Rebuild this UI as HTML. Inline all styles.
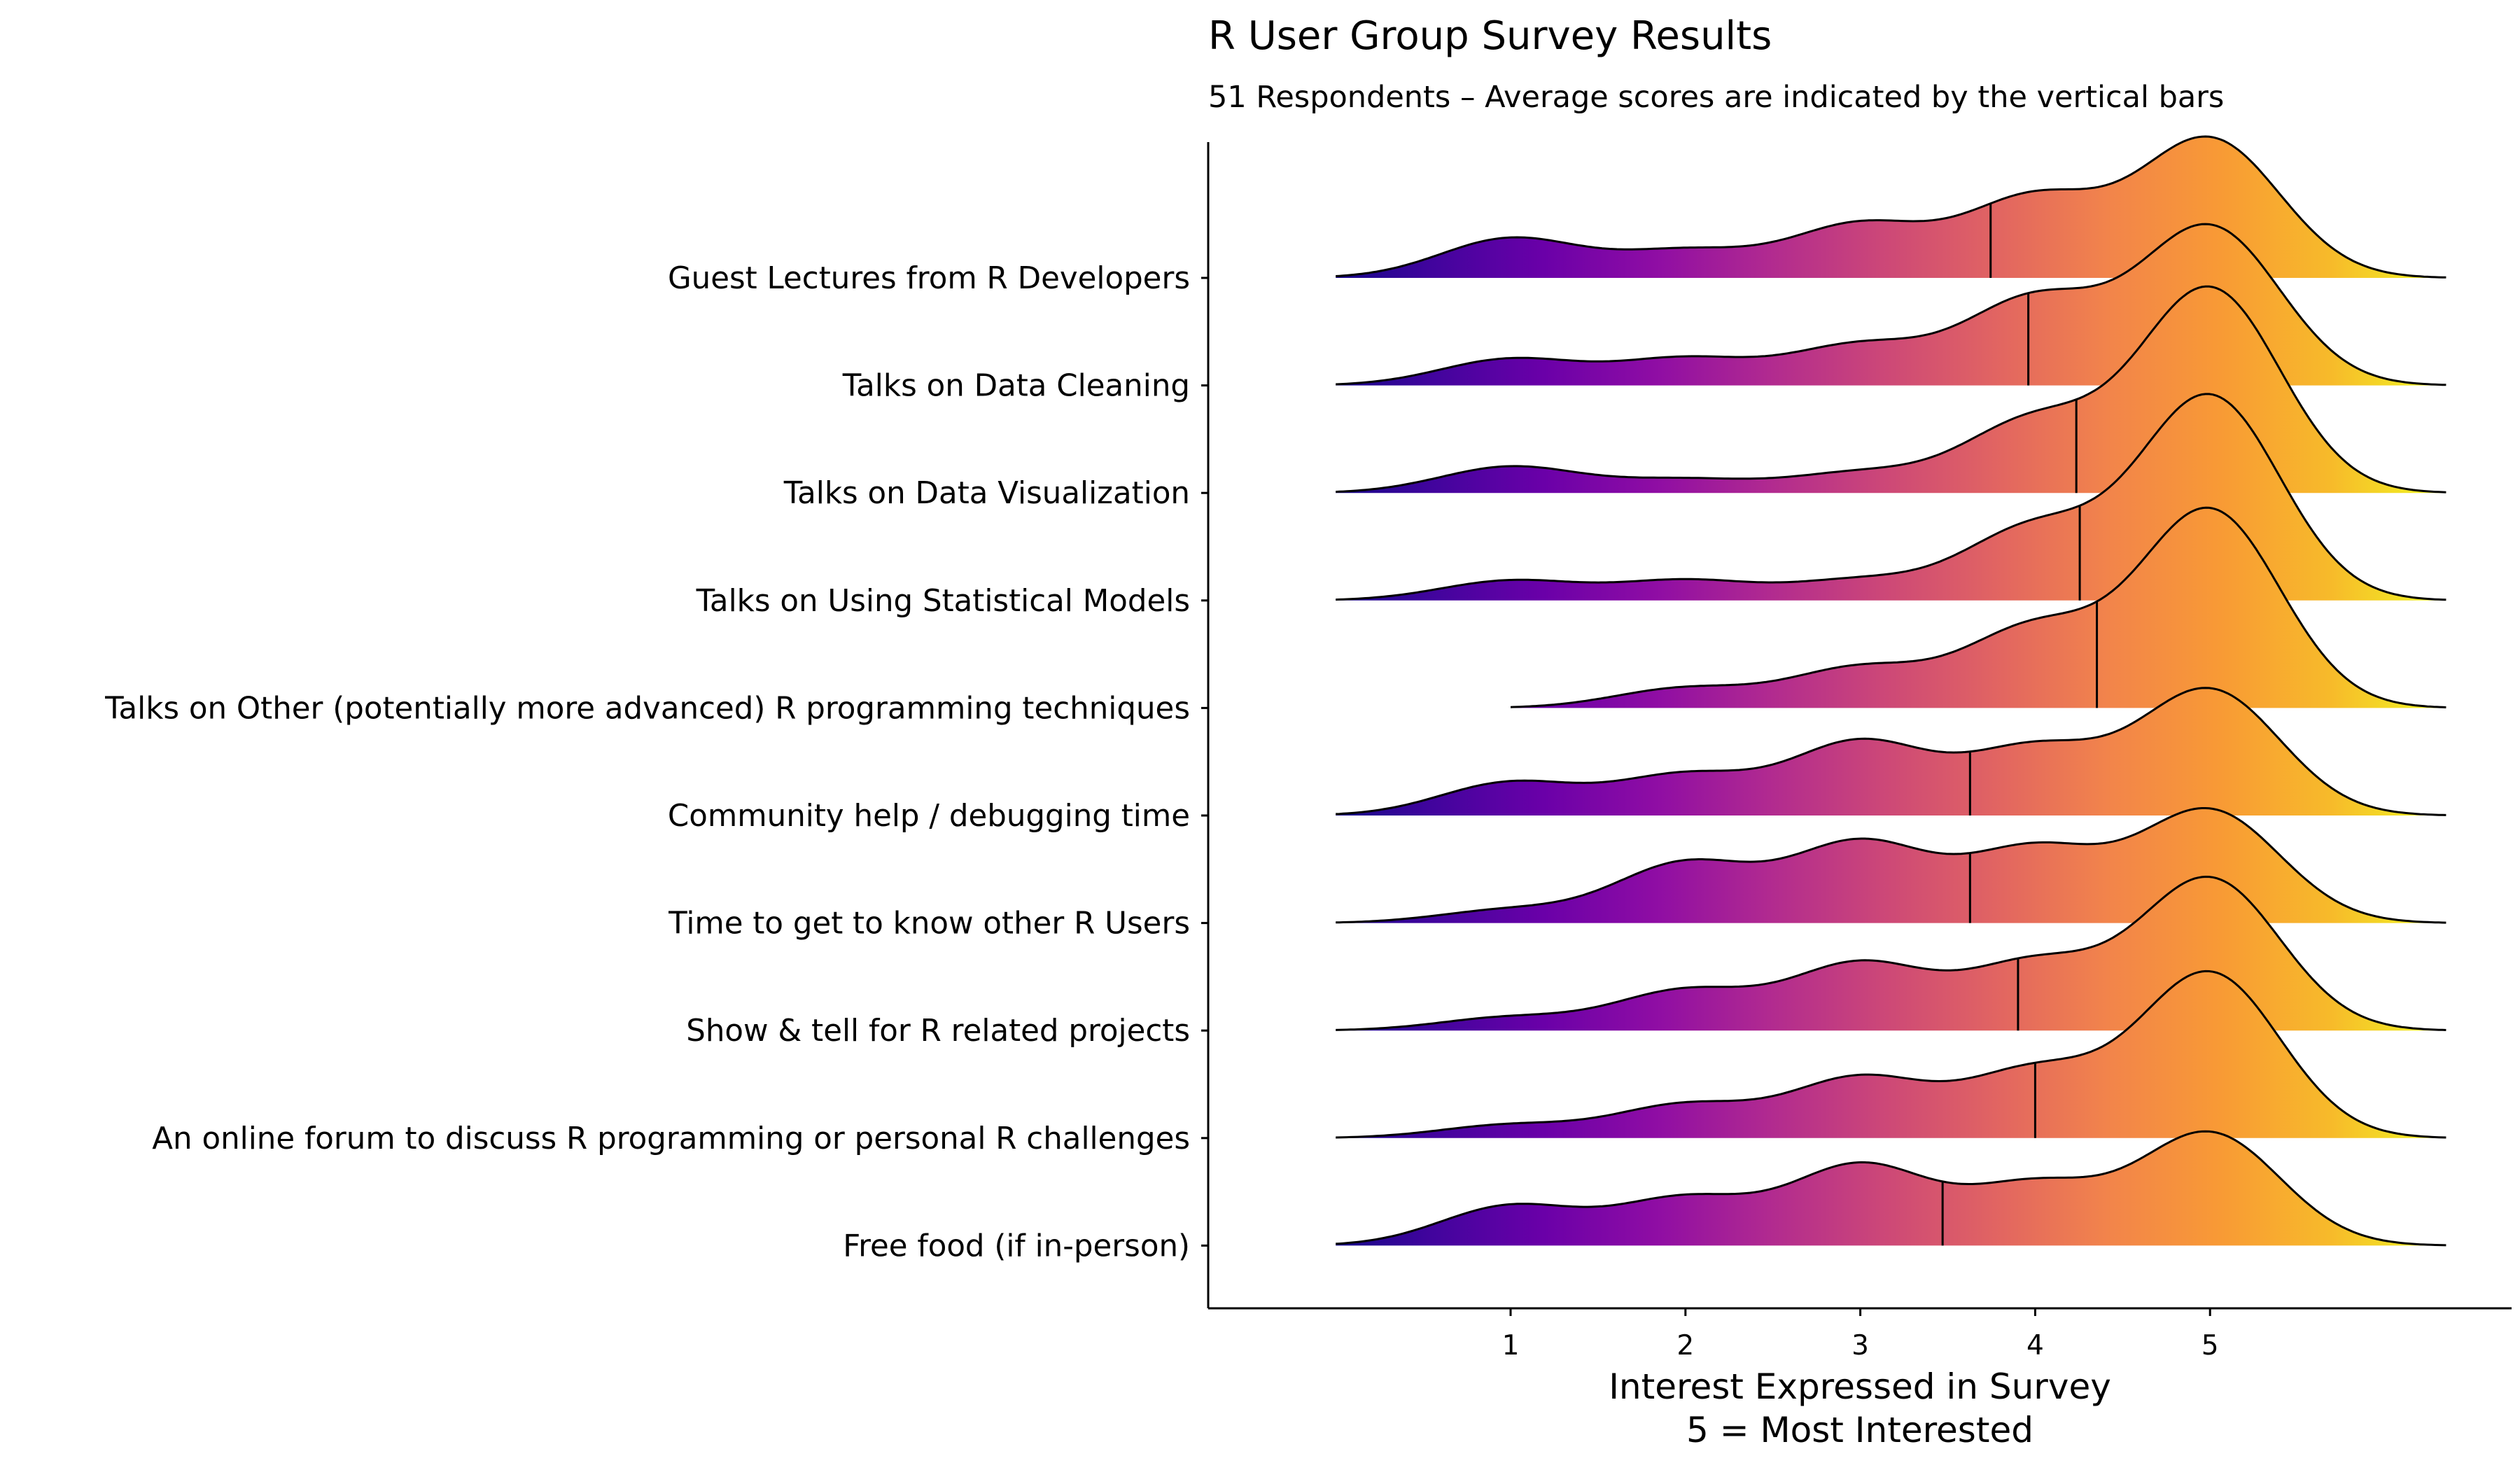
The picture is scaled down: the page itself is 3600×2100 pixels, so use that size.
<!DOCTYPE html>
<html><head><meta charset="utf-8"><style>
html,body{margin:0;padding:0;background:#fff;}
svg{display:block;font-family:"DejaVu Sans","Liberation Sans",sans-serif;}
</style></head><body>
<svg id="chart" width="3600" height="2100" viewBox="0 0 3600 2100" xmlns="http://www.w3.org/2000/svg">
<defs>
<linearGradient id="plasma" gradientUnits="userSpaceOnUse" x1="1883" y1="0" x2="3494" y2="0">
<stop offset="0" stop-color="#0d0887"/>
<stop offset="0.1" stop-color="#41049d"/>
<stop offset="0.2" stop-color="#6a00a8"/>
<stop offset="0.3" stop-color="#8f0da4"/>
<stop offset="0.4" stop-color="#b12a90"/>
<stop offset="0.5" stop-color="#cc4778"/>
<stop offset="0.6" stop-color="#e16462"/>
<stop offset="0.7" stop-color="#f2844b"/>
<stop offset="0.8" stop-color="#f89a35"/>
<stop offset="0.9" stop-color="#f7bb2a"/>
<stop offset="1" stop-color="#f0f921"/>
</linearGradient>
</defs>
<text x="1726" y="70" font-size="56" fill="#000">R User Group Survey Results</text>
<text x="1726" y="153" font-size="43" fill="#000">51 Respondents – Average scores are indicated by the vertical bars</text>
<g id="ridges"></g>
<g id="axes"></g>
<text x="2657" y="1998" font-size="50" text-anchor="middle">Interest Expressed in Survey</text>
<text x="2657" y="2060" font-size="50" text-anchor="middle">5 = Most Interested</text>
</svg>
<script>
const categories = ["Guest Lectures from R Developers","Talks on Data Cleaning","Talks on Data Visualization","Talks on Using Statistical Models","Talks on Other (potentially more advanced) R programming techniques","Community help / debugging time","Time to get to know other R Users","Show & tell for R related projects","An online forum to discuss R programming or personal R challenges","Free food (if in-person)"];
// counts of responses for scores 1..5
const count1 = [6,4,4,3,0,5,2,2,2,6];
const count2 = [4,4,2,3,3,6,9,6,5,7];
const count3 = [8,6,3,3,6,11,12,10,9,12];
const count4 = [12,13,11,11,12,10,11,10,10,9];
const count5 = [21,24,31,31,30,19,17,23,25,17];
const scores = [1,2,3,4,5];
const xTicks = [1,2,3,4,5];

const NS="http://www.w3.org/2000/svg";
const rg=document.getElementById('ridges');
const ax=document.getElementById('axes');
const X0=1726, X1=3588, YB=1869, YT=203;
function xs(v){return 2158+(v-1)*249.8;}
function ys(i){return 397+i*153.6;}
const bw=0.4;
function mk(tag,attrs){const e=document.createElementNS(NS,tag);for(const k in attrs)e.setAttribute(k,attrs[k]);return e;}
function dens(cnt,x){let n=0,s=0;for(let j=0;j<5;j++){n+=cnt[j];const z=(x-scores[j])/bw;s+=cnt[j]*Math.exp(-0.5*z*z);}return s/(n*bw*Math.sqrt(2*Math.PI));}
const rows=categories.map((c,i)=>[count1[i],count2[i],count3[i],count4[i],count5[i]]);
let maxD=0;
rows.forEach(cnt=>{for(let x=0;x<=6.5;x+=0.01)maxD=Math.max(maxD,dens(cnt,x));});
const H=295/maxD;
rows.forEach((cnt,i)=>{
  let mn=1;while(cnt[mn-1]===0)mn++;
  let mx=5;while(cnt[mx-1]===0)mx--;
  const lo=mn-1.0, hi=mx+1.35;
  const b=ys(i);
  let d=`M${xs(lo)},${b}`;let top='';
  for(let k=0;k<=300;k++){const x=lo+(hi-lo)*k/300;const y=b-dens(cnt,x)*H;d+=` L${xs(x).toFixed(1)},${y.toFixed(1)}`;top+=(k?' L':'M')+xs(x).toFixed(1)+','+y.toFixed(1);}
  d+=` L${xs(hi)},${b} Z`;
  const g=mk('g',{});
  
  
  const area=mk('path',{d:d,fill:'url(#plasma)',stroke:'none'});
  
  
  g.appendChild(area);
  const line=mk('path',{d:top,fill:'none',stroke:'#000','stroke-width':3});
  
  
  g.appendChild(line);
  let n=0,s=0;for(let j=0;j<5;j++){n+=cnt[j];s+=cnt[j]*scores[j];}
  const m=s/n;
  const ml=mk('line',{x1:xs(m),x2:xs(m),y1:b,y2:b-dens(cnt,m)*H,stroke:'#000','stroke-width':3});
  
  
  g.appendChild(ml);
  rg.appendChild(g);
  const t=mk('text',{x:1700,y:b+15,'font-size':43.5,'text-anchor':'end'});
  t.textContent=categories[i];
  
  
  ax.appendChild(t);
  const tk=mk('line',{x1:X0-10,x2:X0,y1:b,y2:b,stroke:'#000','stroke-width':3});
  
  
  ax.appendChild(tk);
});
const yl=mk('line',{x1:X0,x2:X0,y1:YT,y2:YB,stroke:'#000','stroke-width':3});


ax.appendChild(yl);
const xl=mk('line',{x1:X0,x2:X1,y1:YB,y2:YB,stroke:'#000','stroke-width':3});


ax.appendChild(xl);
xTicks.forEach(v=>{
  const tk=mk('line',{x1:xs(v),x2:xs(v),y1:YB,y2:YB+11,stroke:'#000','stroke-width':3});
  
  
  ax.appendChild(tk);
  const t=mk('text',{x:xs(v),y:1935,'font-size':39,'text-anchor':'middle'});
  t.textContent=v;
  
  
  ax.appendChild(t);
});
</script>
</body></html>
